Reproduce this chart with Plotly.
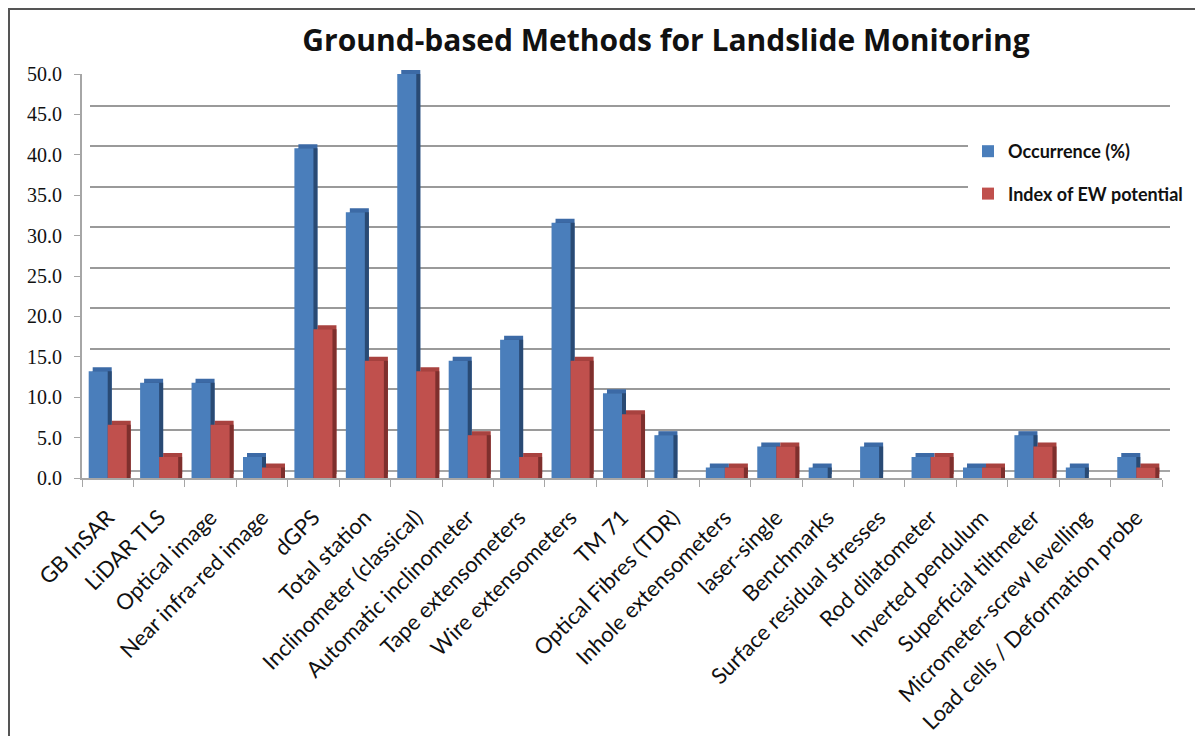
import plotly.graph_objects as go

categories = ["GB InSAR", "LiDAR TLS", "Optical image", "Near infra-red image", "dGPS",
              "Total station", "Inclinometer (classical)", "Automatic inclinometer",
              "Tape extensometers", "Wire extensometers", "TM 71", "Optical Fibres (TDR)",
              "Inhole extensometers", "laser-single", "Benchmarks", "Surface residual stresses",
              "Rod dilatometer", "Inverted pendulum", "Superficial tiltmeter",
              "Micrometer-screw levelling", "Load cells / Deformation probe"]
occurrence = [13.2, 11.8, 11.8, 2.6, 40.8, 32.9, 50.0, 14.5, 17.1, 31.6, 10.5, 5.3,
              1.3, 3.9, 1.3, 3.9, 2.6, 1.3, 5.3, 1.3, 2.6]
ew_index = [6.6, 2.6, 6.6, 1.3, 18.4, 14.5, 13.2, 5.3, 2.6, 14.5, 7.9, 0.0,
            1.3, 3.9, 0.0, 0.0, 2.6, 1.3, 3.9, 0.0, 1.3]
series_names = ["Occurrence (%)", "Index of EW potential"]
y_ticks = [0, 5, 10, 15, 20, 25, 30, 35, 40, 45, 50]

# page body has an 8px margin; the figure is sized to fit the window
OX, OY = 8, 8
W, H = 1203 - OX, 736 - OY
front_col = ["#4A7EBB", "#C0504D"]
top_col = ["#3C6AA6", "#A8423F"]
side_col = ["#294A74", "#7E2F2D"]


def fx(a):
    return (a - OX) / W


def fy(b):
    return (H - (b - OY)) / H


def px_x(a, b):
    return [fx(a), fx(b)]


def px_y(bottom, top):
    return [fy(bottom), fy(top)]


fig = go.Figure()
series = [occurrence, ew_index]

# subplot 1: back wall gridlines
fig.add_trace(go.Bar(x=categories, y=[0] * len(categories), xaxis="x", yaxis="y",
                     showlegend=False, hoverinfo="skip", marker_color="rgba(0,0,0,0)"))
# subplot 2: top faces, subplot 3: side faces, subplot 4: front faces
for k in range(2):
    fig.add_trace(go.Bar(x=categories, y=series[k], xaxis="x2", yaxis="y2",
                         marker=dict(color=top_col[k], line_width=0),
                         showlegend=False, hoverinfo="skip", offsetgroup=str(k)))
for k in range(2):
    fig.add_trace(go.Bar(x=categories, y=series[k], xaxis="x3", yaxis="y3",
                         marker=dict(color=side_col[k], line_width=0),
                         showlegend=False, hoverinfo="skip", offsetgroup=str(k)))
for k in range(2):
    fig.add_trace(go.Bar(x=categories, y=series[k], xaxis="x4", yaxis="y4",
                         name=series_names[k], legendgroup=str(k),
                         marker=dict(color=front_col[k], line_width=0),
                         offsetgroup=str(k)))

xr = [-0.5, len(categories) - 0.5]
yr = [0, 50]
hidden_x = dict(range=xr, showgrid=False, showticklabels=False, ticks="",
                zeroline=False, showline=False, type="category", automargin=False)
hidden_y = dict(range=yr, showgrid=False, showticklabels=False, ticks="",
                zeroline=False, showline=False, automargin=False)

fig.update_layout(
    template="none",
    width=W, height=H, autosize=False,
    margin=dict(l=0, r=0, t=0, b=0, pad=0),
    paper_bgcolor="white", plot_bgcolor="rgba(0,0,0,0)",
    barmode="group", bargap=0.26, bargroupgap=0,
    title=dict(text="<b>Ground-based Methods for Landslide Monitoring</b>",
               x=fx(666), xanchor="center", y=fy(40), yanchor="middle",
               font=dict(family="Open Sans", size=30, color="#111111")),
    xaxis=dict(hidden_x, domain=px_x(90, 1170), anchor="y",
               showline=True, linecolor="#A6A6A6", linewidth=2),
    yaxis=dict(hidden_y, domain=px_y(470, 65), anchor="x", showgrid=True,
               gridcolor="#9A9A9A", gridwidth=2, tickvals=y_ticks),
    xaxis2=dict(hidden_x, domain=px_x(86, 1166), anchor="y2"),
    yaxis2=dict(hidden_y, domain=px_y(474, 70), anchor="x2"),
    xaxis3=dict(hidden_x, domain=px_x(86, 1166), anchor="y3"),
    yaxis3=dict(hidden_y, domain=px_y(478, 74), anchor="x3"),
    xaxis4=dict(range=xr, domain=px_x(82, 1162), anchor="y4", type="category",
                automargin=False,
                showgrid=False, zeroline=False, showline=True, linecolor="#A6A6A6",
                linewidth=2, ticks="outside", tickson="boundaries", ticklen=7,
                tickcolor="#A6A6A6", tickangle=-45, ticklabelstandoff=16,
                tickfont=dict(family="Lato", size=22, color="#111111")),
    yaxis4=dict(range=yr, domain=px_y(478, 74), anchor="x4", showgrid=False,
                automargin=False,
                zeroline=False, showline=True, linecolor="#A6A6A6", linewidth=2,
                ticks="outside", ticklen=6, tickcolor="#A6A6A6", ticklabelstandoff=8,
                tickvals=y_ticks, ticktext=[f"{v:.1f}" for v in y_ticks],
                tickfont=dict(family="Liberation Serif", size=20, color="#111111")),
    legend=dict(x=fx(968), y=fy(133), xanchor="left", yanchor="top",
                bgcolor="white", borderwidth=0, tracegroupgap=16,
                font=dict(family="Lato", size=18, color="#111111", weight="bold"),
                itemwidth=30),
    shapes=[
        dict(type="line", xref="paper", yref="paper", x0=0, x1=1,
             y0=1 - 0.5 / H, y1=1 - 0.5 / H, line=dict(color="#555555", width=3)),
        dict(type="line", xref="paper", yref="paper", x0=0.5 / W, x1=0.5 / W,
             y0=1, y1=0, line=dict(color="#555555", width=3)),
    ],
)

fig.write_html("out.html")
